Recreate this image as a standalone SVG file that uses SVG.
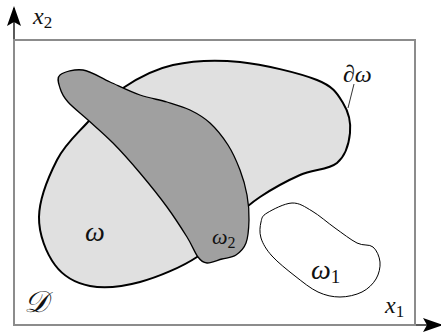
<svg xmlns="http://www.w3.org/2000/svg" width="441" height="332" viewBox="0 0 441 332">
<defs>
<marker id="ah" viewBox="0 0 20 14" refX="18" refY="7" markerWidth="20" markerHeight="14" markerUnits="userSpaceOnUse" orient="auto">
<path d="M0,0 L20,7 L0,14 L4,7 Z" fill="#000"/>
</marker>
</defs>
<rect x="0" y="0" width="441" height="332" fill="#fff"/>
<g id="axes">
<line x1="14" y1="40" x2="14" y2="8" stroke="#000" stroke-width="1.3" marker-end="url(#ah)"/>
<line x1="415" y1="325" x2="441" y2="325" stroke="#000" stroke-width="1.3" marker-end="url(#ah)"/>
</g>
<g id="domainD">
<rect x="14" y="40" width="401" height="285" fill="none" stroke="#8c8c8c" stroke-width="2"/>
</g>
<g id="omega">
<path d="M123,88 C137.3,78.3 153.5,69.3 173,65 C192.5,60.7 216,59.5 240,62 C264,64.5 299.8,73.2 317,80 C334.2,86.8 337.5,94.2 343,103 C348.5,111.8 351,123 350,133 C349,143 345.3,156 337,163 C328.7,170 312.8,169.3 300,175 C287.2,180.7 271.7,189.2 260,197 C248.3,204.8 240.5,212 230,222 C219.5,232 212,247 197,257 C182,267 157.8,277.2 140,282 C122.2,286.8 104.2,288.8 90,286 C75.8,283.2 63.5,276.5 55,265 C46.5,253.5 38.7,234.5 39,217 C39.3,199.5 49,175.7 57,160 C65,144.3 76,135 87,123 C98,111 108.7,97.7 123,88 Z" fill="#e0e0e0" stroke="#000" stroke-width="2"/>
</g>
<g id="omega2">
<path d="M60,75 C63.8,72 74.7,68.8 83,70 C91.3,71.2 100.5,77.8 110,82 C119.5,86.2 130.5,91.7 140,95 C149.5,98.3 158.7,99.5 167,102 C175.3,104.5 182.8,106.5 190,110 C197.2,113.5 203.7,117.2 210,123 C216.3,128.8 223,137.2 228,145 C233,152.8 236.8,161.7 240,170 C243.2,178.3 245.5,186.7 247,195 C248.5,203.3 249.2,212 249,220 C248.8,228 248.2,237.2 246,243 C243.8,248.8 240,252.3 236,255 C232,257.7 226.8,257.7 222,259 C217.2,260.3 211,263.3 207,263 C203,262.7 201.3,261.3 198,257 C194.7,252.7 192.2,245.3 187,237 C181.8,228.7 174.8,217.7 167,207 C159.2,196.3 149,183.7 140,173 C131,162.3 121.7,151.8 113,143 C104.3,134.2 95.5,126.8 88,120 C80.5,113.2 72.7,107.3 68,102 C63.3,96.7 61.3,92.5 60,88 C58.7,83.5 56.2,78 60,75 Z" fill="#a0a0a0" stroke="#000" stroke-width="1.3"/>
</g>
<g id="omega1">
<path d="M267,213 C272.2,209.8 284.5,203.3 292,203 C299.5,202.7 304.8,206.8 312,211 C319.2,215.2 327.5,222.7 335,228 C342.5,233.3 350.7,239.8 357,243 C363.3,246.2 369.2,243.8 373,247 C376.8,250.2 379.5,256.7 380,262 C380.5,267.3 379,274 376,279 C373,284 368,289 362,292 C356,295 347.3,297 340,297 C332.7,297 325.5,295.5 318,292 C310.5,288.5 302.7,282 295,276 C287.3,270 277.7,262.3 272,256 C266.3,249.7 262.8,243.7 261,238 C259.2,232.3 260,226.2 261,222 C262,217.8 261.8,216.2 267,213 Z" fill="#fff" stroke="#000" stroke-width="1"/>
</g>
<g id="connectors">
<line x1="354" y1="84" x2="348" y2="108" stroke="#000" stroke-width="0.8"/>
</g>
<g id="labels" font-family="Liberation Serif, serif" font-style="italic" fill="#111">
<text x="33" y="24" font-size="24">x<tspan font-style="normal" font-size="17" dy="4">2</tspan></text>
<text x="385" y="313" font-size="24">x<tspan font-style="normal" font-size="17" dy="4">1</tspan></text>
<text x="85" y="241" font-size="28">ω</text>
<text x="212" y="244" font-size="22">ω<tspan font-style="normal" font-size="16" dy="4">2</tspan></text>
<text x="311" y="279" font-size="28">ω<tspan font-style="normal" font-size="19" dy="4">1</tspan></text>
<text x="343" y="82" font-size="24">∂ω</text>
<text x="24" y="312" font-size="30">𝒟</text>
</g>
</svg>
